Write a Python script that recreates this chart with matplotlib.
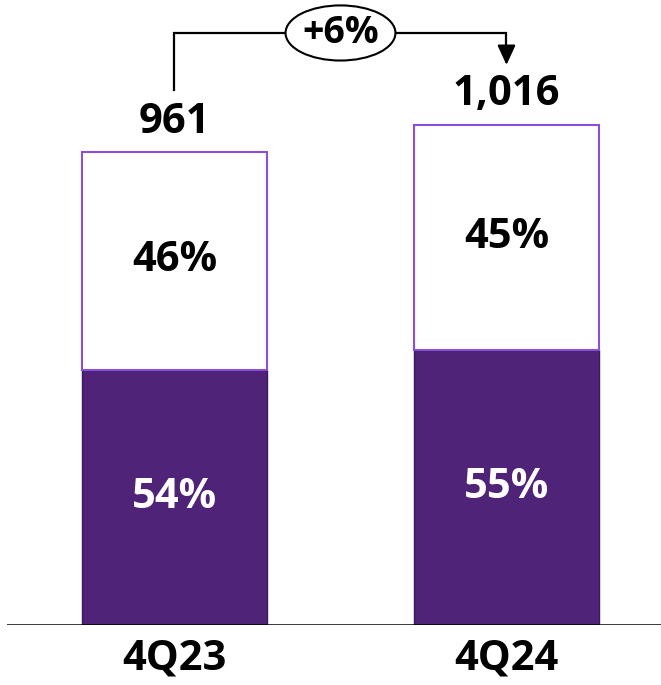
import matplotlib.pyplot as plt
from matplotlib.patches import Ellipse

# quarterly totals and mix split (bottom segment / top segment, in %)
quarters = ["4Q23", "4Q24"]
totals = [961, 1016]
share_bottom = [54, 55]
share_top = [46, 45]
growth_label = "+6%"

DARK = "#4E2378"
EDGE_TOP = "#8A4FD8"
FONT = "Open Sans"
FS = 30

fig = plt.figure(figsize=(6.61, 6.85), dpi=100)
ax = fig.add_axes([7 / 661, 60 / 685, 654 / 661, 625 / 685])

x = list(range(len(quarters)))
width = 0.557
bottoms = [t * s / 100 for t, s in zip(totals, share_bottom)]
tops = [t - b for t, b in zip(totals, bottoms)]

ax.bar(x, bottoms, width=width, color=DARK, edgecolor="#3A1A5C", linewidth=1)
ax.bar(x, tops, width=width, bottom=bottoms, color="white",
       edgecolor=EDGE_TOP, linewidth=1.5)

for i in x:
    ax.text(i, bottoms[i] / 2, f"{share_bottom[i]}%", ha="center", va="center",
            color="white", fontsize=FS, fontweight="bold", family=FONT)
    ax.text(i, bottoms[i] + tops[i] / 2, f"{share_top[i]}%", ha="center", va="center",
            color="black", fontsize=FS, fontweight="bold", family=FONT)
    ax.text(i, totals[i] + 61, f"{totals[i]:,}", ha="center", va="center",
            color="black", fontsize=FS, fontweight="bold", family=FONT)
    ax.text(i, -70, quarters[i], ha="center", va="center", clip_on=False,
            color="black", fontsize=FS, fontweight="bold", family=FONT)

# growth bracket between the two totals
y_top = max(totals) + 187
ax.plot([x[0], x[0], x[1], x[1]], [totals[0] + 126, y_top, y_top, y_top - 25],
        color="black", lw=1.6, solid_joinstyle="miter")
ax.annotate("", xy=(x[1], totals[1] + 122), xytext=(x[1], y_top - 30),
            arrowprops=dict(arrowstyle="-|>,head_length=1.2,head_width=0.55",
                            color="black", lw=1.6, shrinkA=0, shrinkB=0))
ax.add_patch(Ellipse((0.5, y_top), 0.331, 112, fc="white", ec="black", lw=1.5, zorder=3))
ax.text(0.5, y_top, growth_label, ha="center", va="center", zorder=4,
        fontsize=27, fontweight="bold", family=FONT)

ax.set_xlim(-0.5045, 1.4654)
ax.set_ylim(0, 1270)
ax.axhline(0, color="black", lw=1.8)
for side in ["top", "right", "left", "bottom"]:
    ax.spines[side].set_visible(False)
ax.set_xticks([])
ax.set_yticks([])

fig.savefig("out.png", dpi=100)
